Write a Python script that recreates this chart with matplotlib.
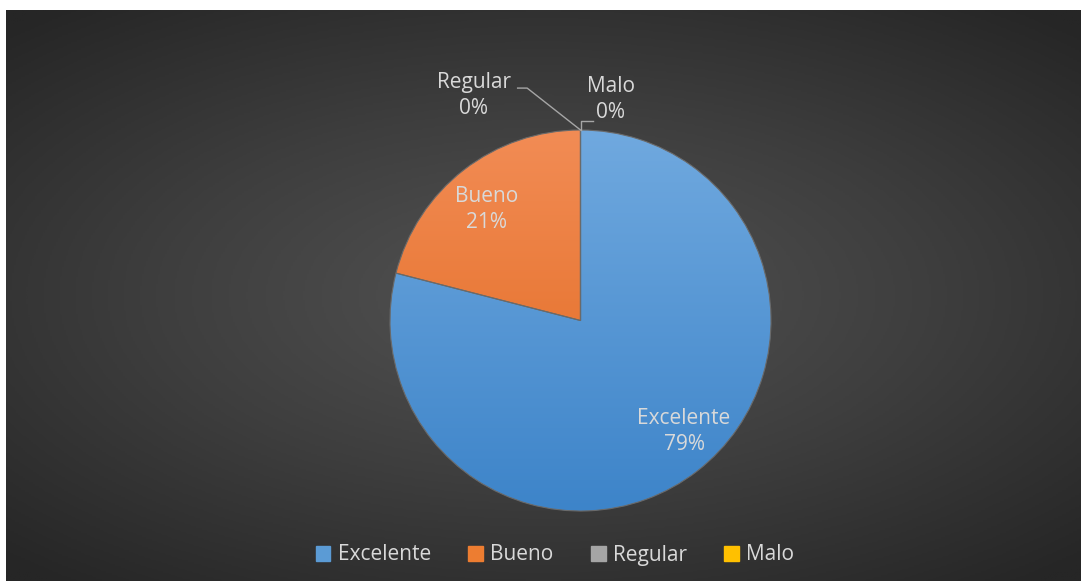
import numpy as np
import matplotlib.pyplot as plt
from matplotlib.colors import LinearSegmentedColormap

categories = ['Excelente', 'Bueno', 'Regular', 'Malo']
values = [79, 21, 0, 0]
colors_top = ['#70a9df', '#f28c55', '#b0b0b0', '#ffcc33']
colors_bot = ['#3d84c9', '#e0661a', '#8c8c8c', '#e6b000']
legend_colors = ['#5b9bd5', '#ed7d31', '#a5a5a5', '#ffc000']
txt = '#d9d9d9'

plt.rcParams['font.family'] = ['Open Sans', 'DejaVu Sans']

W, H = 1083, 583
fig = plt.figure(figsize=(W / 100, H / 100), dpi=100, facecolor='white')

# dark background with radial gradient
bg = fig.add_axes([6 / W, 2 / H, 1075 / W, 571 / H])
bg.set_axis_off()
yy, xx = np.mgrid[-1:1:300j, -1:1:560j]
r = np.sqrt((xx * 0.9) ** 2 + (yy * 1.0) ** 2)
cmap_bg = LinearSegmentedColormap.from_list('bg', ['#535353', '#3e3e3e', '#262626'])
bg.imshow(r, cmap=cmap_bg, vmin=0, vmax=1.3, aspect='auto', extent=[0, 1, 0, 1])
bg.set_xlim(0, 1)
bg.set_ylim(0, 1)

# pie
R = 190.5
cx, cy = 580.5, 583 - 320.5
ax = fig.add_axes([(cx - R * 1.6) / W, (cy - R * 1.6) / H, R * 3.2 / W, R * 3.2 / H])
ax.set_axis_off()

wedges, _ = ax.pie(values, startangle=90, counterclock=False, radius=1,
                   colors=legend_colors, wedgeprops=dict(linewidth=0.8, edgecolor='#6a6a6a'))
grad = np.linspace(0, 1, 256).reshape(-1, 1)
for w, ct, cb in zip(wedges, colors_top, colors_bot):
    cm = LinearSegmentedColormap.from_list('g', [ct, cb])
    im = ax.imshow(grad, cmap=cm, extent=[-1, 1, -1, 1], aspect='auto', zorder=w.get_zorder() + 0.1)
    im.set_clip_path(w)
    w.set_zorder(w.get_zorder() + 0.2)
    w.set_facecolor('none')

# inside labels (Excel nudges them a bit off the mid-angle)
total = sum(values)
nudge = {'Excelente': (0.09, 0.0), 'Bueno': (-0.04, 0.0)}
angle = 90
for name, v in zip(categories, values):
    span = v / total * 360
    mid = np.deg2rad(angle - span / 2)
    angle -= span
    if v > 0:
        rr = 0.74
        dx, dy = nudge.get(name, (0, 0))
        ax.text(rr * np.cos(mid) + dx, rr * np.sin(mid) + dy, f'{name}\n{v / total:.0%}',
                ha='center', va='center', color=txt, fontsize=15, linespacing=1.3)

# labels for zero slices with leader lines
lc = '#a6a6a6'
ax.plot([0, -0.28, -0.33], [1, 1.22, 1.22], color=lc, lw=1, zorder=5)
ax.text(-0.56, 1.18, 'Regular\n0%', ha='center', va='center', color=txt,
        fontsize=15, linespacing=1.3)
ax.plot([0, 0, 0.065], [1, 1.045, 1.045], color=lc, lw=1, zorder=5)
ax.text(0.16, 1.16, 'Malo\n0%', ha='center', va='center', color=txt,
        fontsize=15, linespacing=1.3)

ax.set_xlim(-1.6, 1.6)
ax.set_ylim(-1.6, 1.6)

# legend
handles = [plt.Rectangle((0, 0), 1, 1, color=c) for c in legend_colors]
leg = fig.legend(handles, categories, loc='center', bbox_to_anchor=(555 / W, 1 - 555 / H),
                 ncol=4, frameon=False, fontsize=15, handlelength=0.7, handleheight=0.7,
                 handletextpad=0.35, columnspacing=1.8)
for t in leg.get_texts():
    t.set_color(txt)

fig.savefig('out.png', dpi=100, facecolor='white')
